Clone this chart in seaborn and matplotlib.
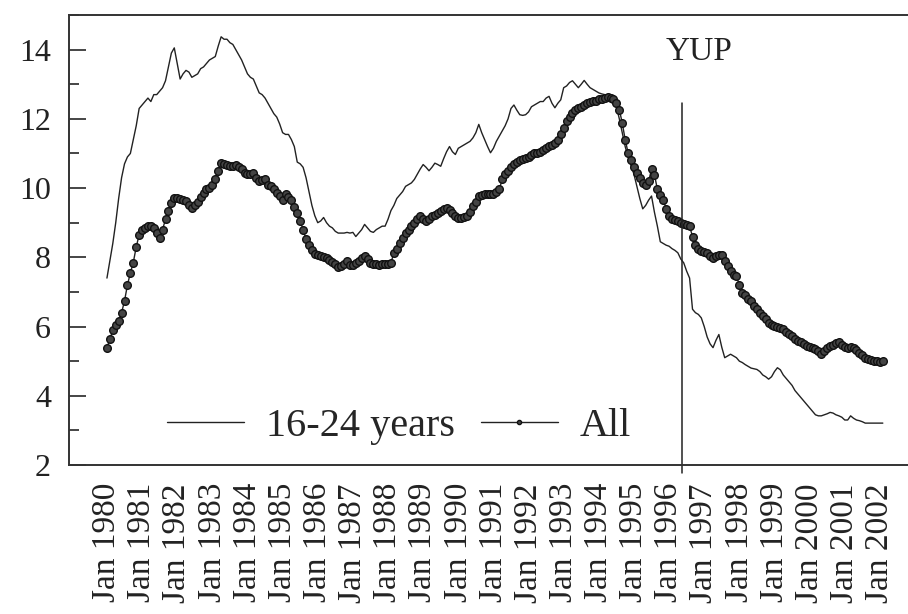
import matplotlib
matplotlib.use("Agg")
import matplotlib.pyplot as plt
import numpy as np
import pandas as pd
import seaborn as sns
from matplotlib.ticker import MultipleLocator

# monthly unemployment rate (%), Jan 1980 - Feb 2002
youth_16_24 = [
    7.4, 7.9, 8.4, 9.0, 9.7, 10.3, 10.7, 10.9, 11.0, 11.4, 11.8, 12.3,          # 1980
    12.4, 12.5, 12.6, 12.5, 12.7, 12.7, 12.8, 12.9, 13.1, 13.5, 13.9, 14.05,    # 1981
    13.6, 13.15, 13.3, 13.4, 13.35, 13.2, 13.25, 13.3, 13.45, 13.5, 13.6, 13.7, # 1982
    13.75, 13.8, 14.1, 14.37, 14.3, 14.3, 14.2, 14.15, 14.0, 13.85, 13.7, 13.5, # 1983
    13.3, 13.2, 13.15, 12.95, 12.75, 12.7, 12.6, 12.45, 12.3, 12.15, 12.05, 11.85,  # 1984
    11.6, 11.55, 11.55, 11.4, 11.2, 10.75, 10.7, 10.6, 10.3, 9.9, 9.5, 9.2,     # 1985
    9.0, 9.05, 9.15, 9.0, 8.9, 8.85, 8.75, 8.7, 8.7, 8.7, 8.72, 8.7,            # 1986
    8.72, 8.6, 8.7, 8.8, 8.95, 8.85, 8.75, 8.72, 8.8, 8.85, 8.9, 8.9,           # 1987
    9.1, 9.35, 9.5, 9.7, 9.8, 9.9, 10.05, 10.1, 10.15, 10.25, 10.4, 10.55,      # 1988
    10.68, 10.6, 10.5, 10.6, 10.72, 10.68, 10.63, 10.85, 11.05, 11.2, 11.05, 10.97,  # 1989
    11.15, 11.2, 11.25, 11.3, 11.35, 11.45, 11.6, 11.84, 11.6, 11.4, 11.2, 11.02,    # 1990
    11.15, 11.35, 11.5, 11.65, 11.8, 12.0, 12.3, 12.4, 12.25, 12.12, 12.1, 12.12,    # 1991
    12.2, 12.35, 12.4, 12.45, 12.5, 12.5, 12.6, 12.65, 12.45, 12.32, 12.45, 12.55,   # 1992
    12.9, 12.95, 13.05, 13.1, 13.0, 12.9, 13.0, 13.11, 13.0, 12.9, 12.85, 12.8,      # 1993
    12.75, 12.72, 12.7, 12.65, 12.6, 12.5, 12.36, 12.0, 11.6, 11.2, 10.9, 10.65,     # 1994
    10.4, 10.05, 9.7, 9.4, 9.5, 9.65, 9.77, 9.3, 8.9, 8.45, 8.4, 8.35,          # 1995
    8.32, 8.25, 8.2, 8.13, 7.95, 7.84, 7.6, 7.4, 6.5, 6.4, 6.35, 6.25,          # 1996
    6.0, 5.7, 5.5, 5.39, 5.6, 5.77, 5.4, 5.1, 5.15, 5.2, 5.15, 5.1,             # 1997
    5.0, 4.96, 4.9, 4.85, 4.8, 4.78, 4.76, 4.7, 4.6, 4.55, 4.48, 4.55,          # 1998
    4.7, 4.81, 4.75, 4.6, 4.5, 4.4, 4.3, 4.15, 4.05, 3.95, 3.85, 3.75,          # 1999
    3.65, 3.55, 3.45, 3.42, 3.42, 3.45, 3.48, 3.52, 3.5, 3.45, 3.42, 3.38,      # 2000
    3.3, 3.3, 3.42, 3.35, 3.3, 3.28, 3.25, 3.21, 3.21, 3.21, 3.21, 3.21,        # 2001
    3.21, 3.21,                                                                  # 2002
]

all_ages = [
    5.39, 5.63, 5.9, 6.05, 6.16, 6.4, 6.74, 7.2, 7.55, 7.85, 8.3, 8.65,         # 1980
    8.78, 8.85, 8.9, 8.9, 8.85, 8.71, 8.57, 8.8, 9.1, 9.35, 9.57, 9.7,          # 1981
    9.72, 9.68, 9.65, 9.62, 9.5, 9.43, 9.5, 9.6, 9.75, 9.85, 9.96, 10.0,        # 1982
    10.1, 10.25, 10.5, 10.73, 10.7, 10.68, 10.63, 10.65, 10.68, 10.6, 10.54, 10.45,  # 1983
    10.4, 10.42, 10.44, 10.3, 10.2, 10.22, 10.25, 10.1, 10.05, 9.96, 9.85, 9.77,     # 1984
    9.67, 9.82, 9.75, 9.67, 9.45, 9.29, 9.05, 8.8, 8.52, 8.35, 8.2, 8.1,        # 1985
    8.08, 8.03, 8.0, 7.99, 7.92, 7.86, 7.8, 7.72, 7.75, 7.82, 7.89, 7.78,       # 1986
    7.78, 7.84, 7.9, 7.98, 8.03, 7.95, 7.84, 7.82, 7.8, 7.78, 7.8, 7.8,         # 1987
    7.82, 7.84, 8.13, 8.25, 8.42, 8.55, 8.71, 8.8, 8.9, 9.0, 9.1, 9.19,         # 1988
    9.1, 9.05, 9.1, 9.19, 9.22, 9.29, 9.35, 9.4, 9.43, 9.38, 9.29, 9.2,         # 1989
    9.15, 9.14, 9.16, 9.19, 9.3, 9.48, 9.6, 9.77, 9.8, 9.82, 9.82, 9.82,        # 1990
    9.82, 9.9, 9.96, 10.25, 10.4, 10.5, 10.6, 10.7, 10.75, 10.8, 10.83, 10.88,  # 1991
    10.9, 10.95, 11.0, 11.02, 11.05, 11.11, 11.15, 11.21, 11.25, 11.3, 11.4, 11.55,  # 1992
    11.75, 11.93, 12.05, 12.17, 12.25, 12.3, 12.35, 12.4, 12.45, 12.48, 12.51, 12.53,  # 1993
    12.56, 12.58, 12.6, 12.63, 12.6, 12.56, 12.46, 12.27, 11.88, 11.4, 11.02, 10.8,   # 1994
    10.6, 10.44, 10.3, 10.15, 10.1, 10.2, 10.54, 10.39, 9.96, 9.8, 9.67, 9.4,   # 1995
    9.19, 9.12, 9.09, 9.05, 9.0, 8.95, 8.92, 8.9, 8.6, 8.37, 8.25, 8.18,        # 1996
    8.15, 8.13, 8.05, 7.99, 8.05, 8.08, 8.08, 7.9, 7.75, 7.6, 7.5, 7.46,        # 1997
    7.2, 6.98, 6.9, 6.8, 6.74, 6.6, 6.5, 6.4, 6.3, 6.21, 6.1, 6.05,             # 1998
    6.01, 5.98, 5.95, 5.92, 5.85, 5.78, 5.73, 5.65, 5.58, 5.54, 5.5, 5.44,      # 1999
    5.42, 5.38, 5.34, 5.3, 5.2, 5.28, 5.38, 5.44, 5.48, 5.52, 5.54, 5.48,       # 2000
    5.42, 5.39, 5.4, 5.39, 5.32, 5.25, 5.18, 5.1, 5.06, 5.03, 5.0, 5.0,         # 2001
    4.98, 5.0,                                                                   # 2002
]

tick_years = list(range(1980, 2003))
tick_labels = ["Jan " + str(y) for y in tick_years]
yup_year = 1996.36

months = np.arange(len(all_ages))
df = pd.DataFrame({
    "t": 1980 + months / 12.0,
    "youth": youth_16_24,
    "all": all_ages,
})

sns.set_style("white")
plt.rcParams["font.family"] = ["Liberation Serif", "DejaVu Serif"]

fig = plt.figure(figsize=(9.08, 6.14), dpi=100)
ax = fig.add_axes([69 / 908, 1 - 465 / 614, 839 / 908, 450 / 614])

sns.lineplot(data=df, x="t", y="youth", ax=ax, color="#222222", linewidth=1.0,
             label="16-24 years")
sns.lineplot(data=df, x="t", y="all", ax=ax, color="#222222", linewidth=1.0,
             marker="o", markersize=5.5, markerfacecolor="#444444",
             markeredgecolor="#111111", markeredgewidth=1.0, label="All")

ax.axvline(yup_year, ymin=-0.018, ymax=0.805, color="#222222", linewidth=1.1,
           clip_on=False)
ax.text(1996.84, 13.94, "YUP", fontsize=24, ha="center", va="center", color="#222222")

ax.set_xlim(1978.92, 2002.8)
ax.set_ylim(2, 15)
ax.set_xticks(tick_years)
ax.set_xticklabels(tick_labels, rotation=90, fontsize=24, color="#222222")
ax.tick_params(axis="x", length=0, pad=13)
ax.yaxis.set_major_locator(MultipleLocator(2))
ax.yaxis.set_minor_locator(MultipleLocator(1))
ax.tick_params(axis="y", which="major", direction="in", length=12, width=1.2,
               labelsize=23, pad=13, left=True, labelcolor="#222222")
ax.tick_params(axis="y", which="minor", direction="in", length=7, width=1.2, left=True)
ax.set_xlabel("")
ax.set_ylabel("")

for side in ["left", "top", "bottom"]:
    ax.spines[side].set_color("#333333")
    ax.spines[side].set_linewidth(1.4)
ax.spines["right"].set_visible(False)

leg = ax.legend(loc="center left", bbox_to_anchor=(0.117, 0.085), frameon=False,
                ncol=2, fontsize=29, handlelength=1.9, handletextpad=0.55,
                columnspacing=0.65, borderpad=0, borderaxespad=0)
for h in leg.legend_handles:
    h.set_markersize(3)

fig.savefig("out.png", dpi=100)
